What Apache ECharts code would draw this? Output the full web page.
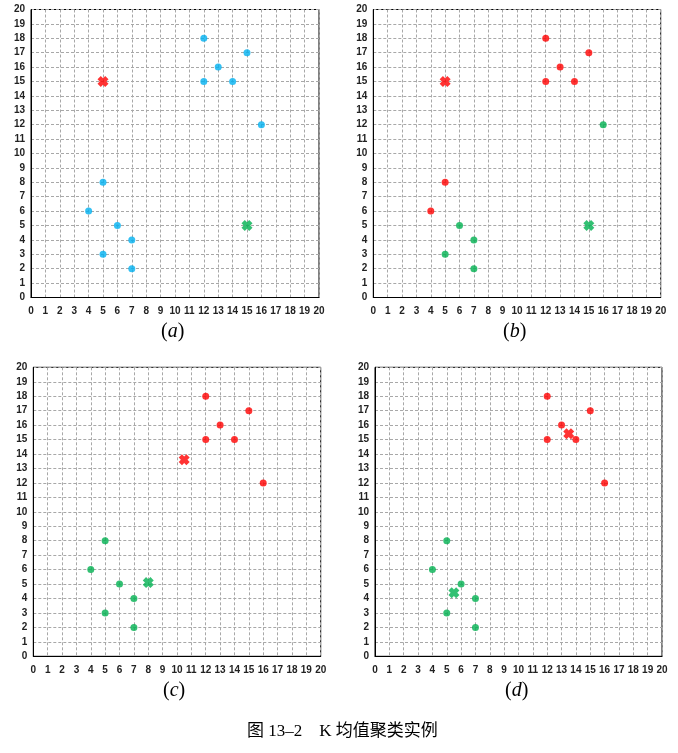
<!DOCTYPE html>
<html><head><meta charset="utf-8">
<script src="https://cdn.jsdelivr.net/npm/echarts@6/dist/echarts.min.js"></script>
<style>html,body{margin:0;padding:0;background:#fff}#c{width:678px;height:753px}</style>
</head><body><div id="c"></div>
<script>
// ---- data ----
const ticks = [0,1,2,3,4,5,6,7,8,9,10,11,12,13,14,15,16,17,18,19,20];
const allPoints = [[12,18],[15,17],[13,16],[12,15],[14,15],[16,12],[5,8],[4,6],[6,5],[7,4],[5,3],[7,2]];
// (a)
const aBlue = allPoints;
const aRedC = [[5,15]];
const aGreenC = [[15,5]];
// (b)
const bRed = [[12,18],[15,17],[13,16],[12,15],[14,15],[5,8],[4,6]];
const bGreen = [[16,12],[6,5],[7,4],[5,3],[7,2]];
const bRedC = [[5,15]];
const bGreenC = [[15,5]];
// (c)
const cRed = [[12,18],[15,17],[13,16],[12,15],[14,15],[16,12]];
const cGreen = [[5,8],[4,6],[6,5],[7,4],[5,3],[7,2]];
const cRedC = [[10.5,13.6]];
const cGreenC = [[8,5.1]];
// (d)
const dRed = [[12,18],[15,17],[13,16],[12,15],[14,15],[16,12]];
const dGreen = [[5,8],[4,6],[6,5],[7,4],[5,3],[7,2]];
const dRedC = [[13.5,15.4]];
const dGreenC = [[5.5,4.4]];
const panelLabels = ['a','b','c','d'];
const captionText = '图 13–2　K 均值聚类实例';

const BLUE='#00B0F0', RED='#FF0000', GREEN='#00B050';
const XPATH='path://M0,3 L3,0 L5,2 L7,0 L10,3 L8,5 L10,7 L7,10 L5,8 L3,10 L0,7 L2,5 Z';

const grids = [
  {left:31, top:9.5, width:288, height:288},
  {left:373.3, top:9.5, width:287.4, height:288},
  {left:33.3, top:367.3, width:287.4, height:289},
  {left:375, top:367.3, width:287, height:289}
];
const labelPos = [[175,334],[517,334],[177,693],[519,693]];

const axisCommon = {
  type:'value', min:0, max:20, interval:1,
  axisLine:{show:true, onZero:false, lineStyle:{color:'#000', width:1}},
  axisTick:{show:false},
  axisLabel:{color:'#222', fontSize:10, fontWeight:'bold', fontFamily:'Liberation Sans, Arial, sans-serif'},
  splitLine:{show:true, lineStyle:{color:'#a8a8a8', type:[3,2], width:1}}
};
const xAxes = grids.map((g,i)=>Object.assign({}, axisCommon, {gridIndex:i, axisLabel:Object.assign({}, axisCommon.axisLabel,{margin:9})}));
const yAxes = grids.map((g,i)=>Object.assign({}, axisCommon, {gridIndex:i, axisLabel:Object.assign({}, axisCommon.axisLabel,{margin:6})}));

function dots(data, color, i){ return {type:'scatter', xAxisIndex:i, yAxisIndex:i, data, symbol:'circle', symbolSize:7, itemStyle:{color}, silent:true, z:3}; }
function cross(data, color, i){ return {type:'scatter', xAxisIndex:i, yAxisIndex:i, data, symbol:XPATH, symbolSize:11, itemStyle:{color}, silent:true, z:4}; }

const series = [
  dots(aBlue, BLUE, 0), cross(aRedC, RED, 0), cross(aGreenC, GREEN, 0),
  dots(bRed, RED, 1), dots(bGreen, GREEN, 1), cross(bRedC, RED, 1), cross(bGreenC, GREEN, 1),
  dots(cRed, RED, 2), dots(cGreen, GREEN, 2), cross(cRedC, RED, 2), cross(cGreenC, GREEN, 2),
  dots(dRed, RED, 3), dots(dGreen, GREEN, 3), cross(dRedC, RED, 3), cross(dGreenC, GREEN, 3)
];

const graphic = panelLabels.map((l,i)=>({
  type:'text', left: labelPos[i][0]-14, top: labelPos[i][1]-12,
  style:{text:'({i|'+l+'})', fill:'#000', font:'20px "Liberation Serif", serif',
    rich:{i:{fontStyle:'italic', fontSize:20, fontFamily:'Liberation Serif', fill:'#000'}}}
}));
graphic.push({type:'text', left:247, top:723,
  style:{text:captionText, fill:'#000', font:'17px "Liberation Serif", "Noto Sans CJK SC", serif'}});

const chart = echarts.init(document.getElementById('c'));
chart.setOption({
  animation:false,
  grid: grids.map(g=>Object.assign({show:true, borderColor:'#000', borderWidth:1, backgroundColor:'transparent'}, g)),
  xAxis:xAxes, yAxis:yAxes, series, graphic
});
</script></body></html>
